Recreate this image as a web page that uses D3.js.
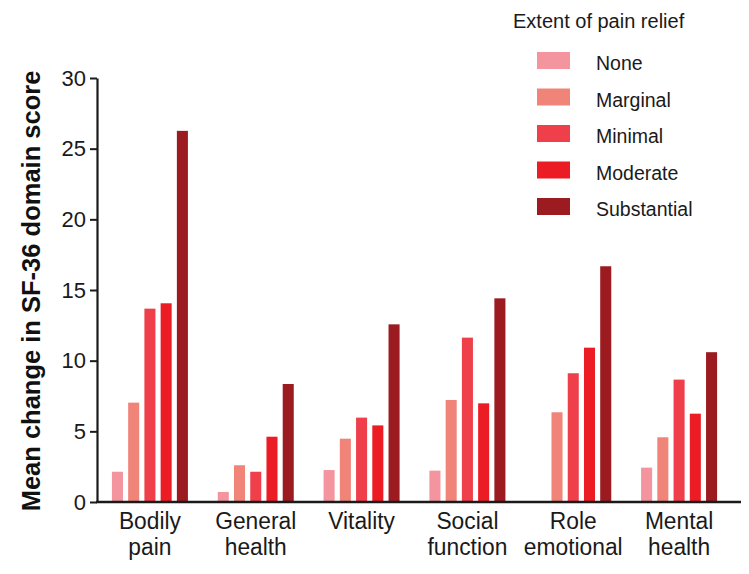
<!DOCTYPE html>
<html>
<head>
<meta charset="utf-8">
<script src="https://cdn.jsdelivr.net/npm/d3@7"></script>
<style>
  html, body { margin: 0; padding: 0; background: #fff; }
  svg { display: block; font-family: "Liberation Sans", Arial, sans-serif; }
</style>
</head>
<body>
<svg id="chart" width="749" height="574"></svg>
<script>
const categories = [["Bodily", "pain"], ["General", "health"], ["Vitality"], ["Social", "function"], ["Role", "emotional"], ["Mental", "health"]];
const categoryKeys = ["Bodily pain", "General health", "Vitality", "Social function", "Role emotional", "Mental health"];
const seriesNames = ["None", "Marginal", "Minimal", "Moderate", "Substantial"];
const seriesColors = ["#f4949e", "#f18479", "#ee3f4a", "#ec1c24", "#9c1b21"];
const noneValues = [2.14, 0.71, 2.26, 2.22, null, 2.43];
const marginalValues = [7.03, 2.6, 4.48, 7.22, 6.35, 4.58];
const minimalValues = [13.68, 2.14, 5.97, 11.63, 9.11, 8.66];
const moderateValues = [14.06, 4.62, 5.42, 6.98, 10.92, 6.25];
const substantialValues = [26.26, 8.35, 12.57, 14.41, 16.68, 10.6];
const yTicks = [0, 5, 10, 15, 20, 25, 30];
const legendTitle = "Extent of pain relief";
const yTitle = "Mean change in SF-36 domain score";

const seriesValues = [noneValues, marginalValues, minimalValues, moderateValues, substantialValues];

const svg = d3.select("#chart");
const x0 = d3.scaleBand().domain(categoryKeys).range([97, 732]).paddingInner(0).paddingOuter(0);
const x1 = d3.scaleBand().domain(seriesNames).range([-38, 38]).paddingInner(0.32).paddingOuter(0);
const y = d3.scaleLinear().domain([0, 30]).range([502, 78]);
const color = d3.scaleOrdinal().domain(seriesNames).range(seriesColors);

// bars
const rows = [];
categoryKeys.forEach((c, i) => {
  seriesNames.forEach((s, j) => {
    const v = seriesValues[j][i];
    if (v != null) rows.push({cat: c, series: s, value: v});
  });
});
svg.append("g").selectAll("rect").data(rows).join("rect")
  .attr("x", d => x0(d.cat) + x0.bandwidth() / 2 + x1(d.series))
  .attr("width", x1.bandwidth())
  .attr("y", d => y(d.value))
  .attr("height", d => y(0) - y(d.value))
  .attr("fill", d => color(d.series));

// y axis
const yAxis = svg.append("g").attr("transform", "translate(97,0)")
  .call(d3.axisLeft(y).tickValues(yTicks).tickSize(7).tickSizeOuter(0).tickPadding(4));
yAxis.select(".domain").attr("stroke", "#1a1a1a").attr("stroke-width", 2.2);
yAxis.selectAll(".tick line").attr("stroke", "#1a1a1a").attr("stroke-width", 2);
yAxis.selectAll(".tick text").attr("font-size", 22).attr("fill", "#1a1a1a")
  .attr("font-family", "Liberation Sans, Arial, sans-serif");

// x axis line
svg.append("line").attr("x1", 96).attr("x2", 741).attr("y1", y(0)).attr("y2", y(0))
  .attr("stroke", "#1a1a1a").attr("stroke-width", 2.4);

// x labels
const xl = svg.append("g").selectAll("g").data(categories).join("g")
  .attr("transform", (d, i) => `translate(${x0(categoryKeys[i]) + x0.bandwidth() / 2},0)`);
xl.each(function(lines) {
  lines.forEach((t, k) => {
    d3.select(this).append("text")
      .attr("text-anchor", "middle")
      .attr("transform", `translate(0,${529 + k * 26}) scale(1,1.08)`)
      .attr("font-size", 22.8)
      .attr("fill", "#1a1a1a")
      .text(t);
  });
});

// y title
svg.append("text")
  .attr("transform", `translate(40,${(y(0) + y(30)) / 2 + 1}) rotate(-90)`)
  .attr("text-anchor", "middle")
  .attr("font-size", 25.5)
  .attr("font-weight", "bold")
  .attr("fill", "#111")
  .text(yTitle);

// legend
const lg = svg.append("g");
lg.append("text").attr("x", 513).attr("y", 28).attr("font-size", 20).attr("fill", "#1a1a1a").text(legendTitle);
const items = lg.selectAll("g.item").data(seriesNames).join("g").attr("class", "item")
  .attr("transform", (d, i) => `translate(537,${52 + i * 36.5})`);
items.append("rect").attr("width", 33).attr("height", 17).attr("fill", d => color(d));
items.append("text").attr("x", 59).attr("y", 18).attr("font-size", 19.5).attr("fill", "#1a1a1a").text(d => d);
</script>
</body>
</html>
